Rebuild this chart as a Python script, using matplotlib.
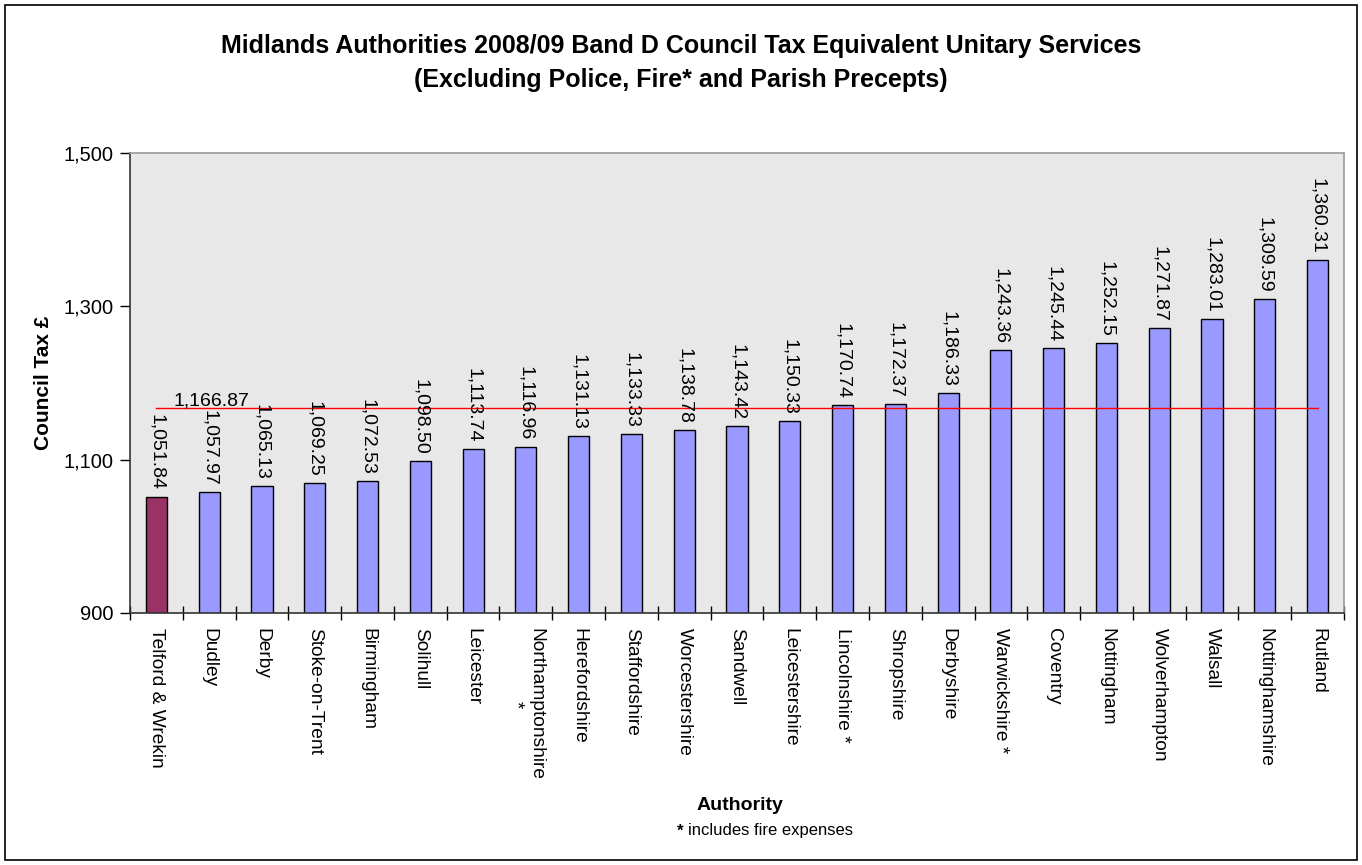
import matplotlib

matplotlib.use("Agg")
import matplotlib.pyplot as plt
from matplotlib.patches import Rectangle

DPI = 100
W, H = 1362, 865

authorities = [
    "Telford & Wrekin", "Dudley", "Derby", "Stoke-on-Trent", "Birmingham",
    "Solihull", "Leicester", "Northamptonshire\n*", "Herefordshire",
    "Staffordshire", "Worcestershire", "Sandwell", "Leicestershire",
    "Lincolnshire *", "Shropshire", "Derbyshire", "Warwickshire *",
    "Coventry", "Nottingham", "Wolverhampton", "Walsall",
    "Nottinghamshire", "Rutland",
]
council_tax = [
    1051.84, 1057.97, 1065.13, 1069.25, 1072.53, 1098.50, 1113.74, 1116.96,
    1131.13, 1133.33, 1138.78, 1143.42, 1150.33, 1170.74, 1172.37, 1186.33,
    1243.36, 1245.44, 1252.15, 1271.87, 1283.01, 1309.59, 1360.31,
]
average = 1166.87
y_ticks = [900, 1100, 1300, 1500]

BAR = "#9999FF"
HIGHLIGHT = "#993366"
FONT = ["Liberation Sans", "DejaVu Sans"]
plt.rcParams["font.family"] = FONT

fig = plt.figure(figsize=(W / DPI, H / DPI), dpi=DPI)
fig.patches.append(Rectangle((5 / W, 5 / H), 1 - 10 / W, 1 - 10 / H,
                             transform=fig.transFigure, fill=False,
                             edgecolor="black", linewidth=1.2))

ax = fig.add_axes([130 / W, 1 - 613 / H, (1344 - 130) / W, (613 - 153) / H])
ax.set_facecolor("#E8E8E8")

n = len(authorities)
xs = list(range(n))
colors = [HIGHLIGHT] + [BAR] * (n - 1)
ax.bar(xs, council_tax, width=0.4, bottom=0, color=colors,
       edgecolor="black", linewidth=1.0, zorder=2)

ax.plot([0, n - 1], [average, average], color="red", linewidth=1.0, zorder=3)
ax.text(0.33, average - 1, f"{average:,.2f}", ha="left", va="bottom",
        fontsize=14, zorder=4)

for x, v in zip(xs, council_tax):
    ax.text(x, v + 8, f"{v:,.2f}", rotation=270, ha="center", va="bottom",
            fontsize=14, zorder=4)

ax.set_xlim(-0.5, n - 0.5)
ax.set_ylim(900, 1500)
ax.set_yticks(y_ticks)
ax.set_yticklabels([f"{t:,}" for t in y_ticks], fontsize=14.5)
ax.set_xticks([i - 0.5 for i in range(n + 1)])
ax.set_xticklabels([])
ax.set_xticks(xs, minor=True)
ax.set_xticklabels(authorities, minor=True, rotation=270, fontsize=13.8,
                   ha="center", va="top", multialignment="center")
ax.tick_params(axis="x", which="minor", length=0, pad=11)
ax.tick_params(axis="x", which="major", direction="inout", length=10, width=1)
ax.tick_params(axis="y", direction="out", length=7, width=1, pad=5)

for s in ("top", "right"):
    ax.spines[s].set_color("#999999")
    ax.spines[s].set_linewidth(1.2)
for s in ("left", "bottom"):
    ax.spines[s].set_color("#333333")
    ax.spines[s].set_linewidth(1.2)

ax.set_ylabel("Council Tax £", fontsize=15, fontweight="bold", labelpad=7)

fig.text(0.5, 1 - 63 / H,
         "Midlands Authorities 2008/09 Band D Council Tax Equivalent Unitary Services\n"
         "(Excluding Police, Fire* and Parish Precepts)",
         ha="center", va="center", fontsize=18, fontweight="bold",
         linespacing=1.55)
fig.text(740 / W, 1 - 806 / H, "Authority", ha="center", va="center",
         fontsize=14, fontweight="bold")
fig.text(677 / W, 1 - 831 / H, "*", ha="left", va="center",
         fontsize=12, fontweight="bold")
fig.text(688 / W, 1 - 831 / H, "includes fire expenses", ha="left",
         va="center", fontsize=12)

fig.savefig("out.png", dpi=DPI, facecolor="white")
